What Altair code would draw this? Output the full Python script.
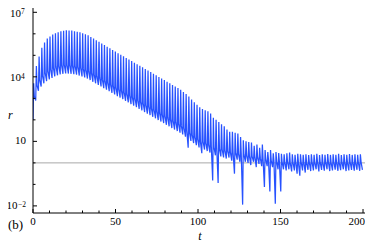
import altair as alt
import pandas as pd

# ---------------- data (log10 r) ----------------
trough_t = [0.0, 1.65, 3.3, 4.95, 6.6, 8.25, 9.9, 11.55, 13.2, 14.85, 16.5, 18.15, 19.8, 21.45,
            23.1, 24.75, 26.4, 28.05, 29.7, 31.35, 33.0, 34.65, 36.3, 37.95, 39.6, 41.25, 42.9,
            44.55, 46.2, 47.85, 49.5, 51.15, 52.8, 54.45, 56.1, 57.75, 59.4, 61.05, 62.7, 64.35,
            66.0, 67.65, 69.3, 70.95, 72.6, 74.25, 75.9, 77.55, 79.2, 80.85, 82.5, 84.15, 85.8,
            87.45, 89.1, 90.75, 92.4, 94.05, 95.7, 97.35, 99.0, 100.65, 102.3, 103.95, 105.6,
            107.25, 108.9, 110.55, 112.2, 113.85, 115.5, 117.15, 118.8, 120.45, 122.1, 123.75,
            125.4, 127.05, 128.7, 130.35, 132.0, 133.65, 135.3, 136.95, 138.6, 140.25, 141.9,
            143.55, 145.2, 146.85, 148.5, 150.15, 151.8, 153.45, 155.1, 156.75, 158.4, 160.05,
            161.7, 163.35, 165.0, 166.65, 168.3, 169.95, 171.6, 173.25, 174.9, 176.55, 178.2,
            179.85, 181.5, 183.15, 184.8, 186.45, 188.1, 189.75, 191.4, 193.05, 194.7, 196.35, 198.0]

trough_log = [2.0, 2.9, 3.35, 3.55, 3.7, 3.8, 3.88, 3.95, 4.02, 4.07, 4.11, 4.14, 4.16, 4.15,
              4.14, 4.12, 4.1, 4.06, 4.02, 3.97, 3.92, 3.85, 3.77, 3.7, 3.62, 3.55, 3.47, 3.4,
              3.33, 3.25, 3.18, 3.1, 3.03, 2.96, 2.88, 2.81, 2.73, 2.66, 2.59, 2.51, 2.44, 2.36,
              2.29, 2.22, 2.14, 2.07, 1.99, 1.92, 1.85, 1.77, 1.7, 1.62, 1.55, 1.48, 1.4, 1.32,
              1.22, 0.7, 1.02, 0.92, 0.82, 0.72, 0.45, 0.62, 0.55, 0.48, -0.82, 0.35, -0.94, 0.3,
              0.25, 0.2, 0.25, 0.1, -0.5, 0.15, 0.05, -1.94, 0.05, 0.0, -0.1, 0.05, -0.2, -0.05,
              -0.15, -1.12, -0.15, -1.33, -0.2, -1.9, -0.3, -1.33, -0.3, -0.35, -0.3, -0.4, -0.35,
              -0.5, -0.6, -0.35, -0.45,
              -0.32, -0.38, -0.35, -0.3, -0.4, -0.33, -0.36, -0.3, -0.38, -0.35, -0.32, -0.37,
              -0.34, -0.3, -0.38, -0.35, -0.33, -0.36, -0.32, -0.37]

peak_log = [3.7, 4.5, 4.95, 5.35, 5.6, 5.78, 5.88, 5.97, 6.03, 6.07, 6.12, 6.14, 6.17, 6.15,
            6.15, 6.12, 6.1, 6.07, 6.03, 5.98, 5.93, 5.85, 5.78, 5.7, 5.63, 5.55, 5.48, 5.4,
            5.33, 5.25, 5.18, 5.1, 5.03, 4.96, 4.88, 4.81, 4.73, 4.66, 4.59, 4.51, 4.44, 4.36,
            4.29, 4.22, 4.14, 4.07, 3.99, 3.92, 3.85, 3.77, 3.7, 3.62, 3.55, 3.48, 3.4, 3.3,
            3.2, 3.08, 2.95, 2.82, 2.7, 2.58, 2.5, 2.45, 2.4, 2.3, 2.1, 2.0, 1.9, 1.8, 1.7,
            1.55, 1.45, 1.45, 1.4, 1.37, 1.2, 1.05, 1.0, 0.97, 0.95, 0.8, 0.85, 0.7, 0.85, 0.6,
            0.5, 0.6, 0.45, 0.5, 0.46,
            0.42, 0.4, 0.45, 0.48, 0.4, 0.38, 0.42, 0.4, 0.38, 0.4,
            0.36, 0.4, 0.38, 0.42, 0.36, 0.4, 0.38, 0.41, 0.37, 0.4, 0.38, 0.42, 0.36, 0.4,
            0.38, 0.41, 0.37, 0.4, 0.38, 0.4]

shoulder_log = [3.1, 3.6, 3.85, 4.05, 4.18, 4.27, 4.35, 4.42, 4.47, 4.51, 4.54, 4.56, 4.55,
                4.54, 4.52, 4.5, 4.46, 4.42, 4.37, 4.32, 4.25, 4.17, 4.1, 4.02, 3.95, 3.87, 3.8,
                3.73, 3.65, 3.58, 3.5, 3.43, 3.36, 3.28, 3.21, 3.13, 3.06, 2.99, 2.91, 2.84, 2.76,
                2.69, 2.62, 2.54, 2.47, 2.39, 2.32, 2.25, 2.17, 2.1, 2.02, 1.95, 1.88, 1.8, 1.72,
                1.62, 1.5, 1.4, 1.3, 1.2, 1.1, 1.0, 0.98, 0.92, 0.85, 0.78, 0.72, 0.7, 0.65, 0.62,
                0.58, 0.55, 0.5, 0.48, 0.45, 0.42, 0.4, 0.38, 0.35, 0.32, 0.3, 0.28, 0.25, 0.22,
                0.2, 0.18, 0.15, 0.12, 0.1, 0.08, 0.06,
                0.05, 0.02, 0.04, 0.0, 0.03, 0.05, 0.01, 0.04, 0.02, 0.0, 0.03, 0.05, 0.01, 0.04,
                0.02, 0.0, 0.03, 0.05, 0.01, 0.04, 0.02, 0.0, 0.03, 0.05, 0.01, 0.04, 0.02, 0.0,
                0.03, 0.05]

peak_lag = 0.4       # time from trough to spike top
shoulder_lag = 0.8   # time from trough to end of fast fall
end_t, end_log = 199.65, -0.33

reference_level = [1.0]

x_major_inner = [0, 50, 100, 150]
x_major_last = [200]
x_minor = [10, 20, 30, 40, 60, 70, 80, 90, 110, 120, 130, 140, 160, 170, 180, 190]
y_major = [1e-2, 1e1, 1e4, 1e7]
y_minor = [1e-1, 1e0, 1e2, 1e3, 1e5, 1e6]
y_exp_vals = [1e7, 1e4]
y_exp_txt = ["7", "4"]
y_neg_vals = [1e-2]
y_neg_txt = ["\u22122"]
y_plain_vals = [1e1]

assert len(trough_t) == len(trough_log) == len(peak_log) == len(shoulder_log)

rows = []
for t0, lo, hi, sh in zip(trough_t, trough_log, peak_log, shoulder_log):
    rows.append({"t": t0, "r": 10 ** lo})
    rows.append({"t": t0 + peak_lag, "r": 10 ** hi})
    rows.append({"t": t0 + shoulder_lag, "r": 10 ** sh})
rows.append({"t": end_t, "r": 10 ** end_log})
series = pd.DataFrame(rows)

# ---------------- chart ----------------
W, H = 332, 205
FONT = "Liberation Serif"
BLUE = "#2752ff"
xs = alt.Scale(domain=[0, 201.2], nice=False, zero=False)
ys = alt.Scale(type="log", domain=[10 ** -2.33, 10 ** 7.2], nice=False)

gray = alt.Chart(pd.DataFrame({"r": reference_level})).mark_rule(
    color="#a8a8a8", strokeWidth=1).encode(
    y=alt.Y("r:Q", scale=ys, axis=None), x=alt.value(0), x2=alt.value(W))

line = alt.Chart(series).mark_line(color=BLUE, strokeWidth=1.25, clip=True).encode(
    x=alt.X("t:Q", scale=xs, axis=None),
    y=alt.Y("r:Q", scale=ys, axis=None))

y_axis_line = alt.Chart(pd.DataFrame({"a": [0]})).mark_rule(color="black", strokeWidth=1).encode(
    x=alt.value(0), y=alt.value(-8), y2=alt.value(H))
x_axis_line = alt.Chart(pd.DataFrame({"a": [0]})).mark_rule(color="black", strokeWidth=1).encode(
    y=alt.value(H), x=alt.value(0), x2=alt.value(W))

ytick_major = alt.Chart(pd.DataFrame({"v": y_major})).mark_rule(color="black").encode(
    y=alt.Y("v:Q", scale=ys, axis=None), x=alt.value(0), x2=alt.value(4))
ytick_minor = alt.Chart(pd.DataFrame({"v": y_minor})).mark_rule(color="black").encode(
    y=alt.Y("v:Q", scale=ys, axis=None), x=alt.value(0), x2=alt.value(2.5))
xtick_major = alt.Chart(pd.DataFrame({"v": x_major_inner + x_major_last})).mark_rule(color="black").encode(
    x=alt.X("v:Q", scale=xs, axis=None), y=alt.value(H), y2=alt.value(H - 4))
xtick_minor = alt.Chart(pd.DataFrame({"v": x_minor})).mark_rule(color="black").encode(
    x=alt.X("v:Q", scale=xs, axis=None), y=alt.value(H), y2=alt.value(H - 2.5))

xlab = alt.Chart(pd.DataFrame({"v": x_major_inner})).mark_text(
    font=FONT, fontSize=11, baseline="middle", align="center").encode(
    x=alt.X("v:Q", scale=xs, axis=None), y=alt.value(H + 9), text=alt.Text("v:Q", format="d"))
xlab_last = alt.Chart(pd.DataFrame({"v": x_major_last})).mark_text(
    font=FONT, fontSize=11, baseline="middle", align="right", dx=2).encode(
    x=alt.X("v:Q", scale=xs, axis=None), y=alt.value(H + 9), text=alt.Text("v:Q", format="d"))

exp_df = pd.DataFrame({"v": y_exp_vals, "e": y_exp_txt, "b": ["10"] * len(y_exp_vals)})
ylab_base = alt.Chart(exp_df).mark_text(font=FONT, fontSize=11, baseline="middle", align="right", dy=1.2).encode(
    y=alt.Y("v:Q", scale=ys, axis=None), x=alt.value(-12), text="b:N")
ylab_exp = alt.Chart(exp_df).mark_text(font=FONT, fontSize=7.5, baseline="alphabetic", align="left", dy=2).encode(
    y=alt.Y("v:Q", scale=ys, axis=None), x=alt.value(-12), text="e:N")

neg_df = pd.DataFrame({"v": y_neg_vals, "e": y_neg_txt, "b": ["10"] * len(y_neg_vals)})
ylab_nbase = alt.Chart(neg_df).mark_text(font=FONT, fontSize=11, baseline="middle", align="right").encode(
    y=alt.Y("v:Q", scale=ys, axis=None), x=alt.value(-15.5), text="b:N")
ylab_nexp = alt.Chart(neg_df).mark_text(font=FONT, fontSize=7.5, baseline="alphabetic", align="left", dy=1.5).encode(
    y=alt.Y("v:Q", scale=ys, axis=None), x=alt.value(-15), text="e:N")

plain_df = pd.DataFrame({"v": y_plain_vals, "b": ["10"] * len(y_plain_vals)})
ylab_plain = alt.Chart(plain_df).mark_text(font=FONT, fontSize=11, baseline="middle", align="right").encode(
    y=alt.Y("v:Q", scale=ys, axis=None), x=alt.value(-7), text="b:N")

t_title = alt.Chart(pd.DataFrame({"s": ["t"]})).mark_text(
    font=FONT, fontSize=12, fontStyle="italic", align="center", baseline="middle").encode(
    x=alt.value(167), y=alt.value(H + 23), text="s:N")
r_title = alt.Chart(pd.DataFrame({"s": ["r"]})).mark_text(
    font=FONT, fontSize=12, fontStyle="italic", align="left", baseline="middle").encode(
    x=alt.value(-25), y=alt.value(107), text="s:N")
b_label = alt.Chart(pd.DataFrame({"s": ["(b)"]})).mark_text(
    font=FONT, fontSize=13, align="left", baseline="middle").encode(
    x=alt.value(-25), y=alt.value(H + 12), text="s:N")

chart = alt.layer(
    gray, line, y_axis_line, x_axis_line, ytick_major, ytick_minor, xtick_major, xtick_minor,
    xlab, xlab_last, ylab_base, ylab_exp, ylab_nbase, ylab_nexp, ylab_plain, t_title, r_title, b_label
).properties(
    width=W, height=H,
    autosize=alt.AutoSizeParams(type="none"),
    padding={"left": 25, "top": 0, "right": 0, "bottom": 32},
).configure_view(stroke=None)

chart.save("out.html", embed_options={"renderer": "svg", "actions": False})
